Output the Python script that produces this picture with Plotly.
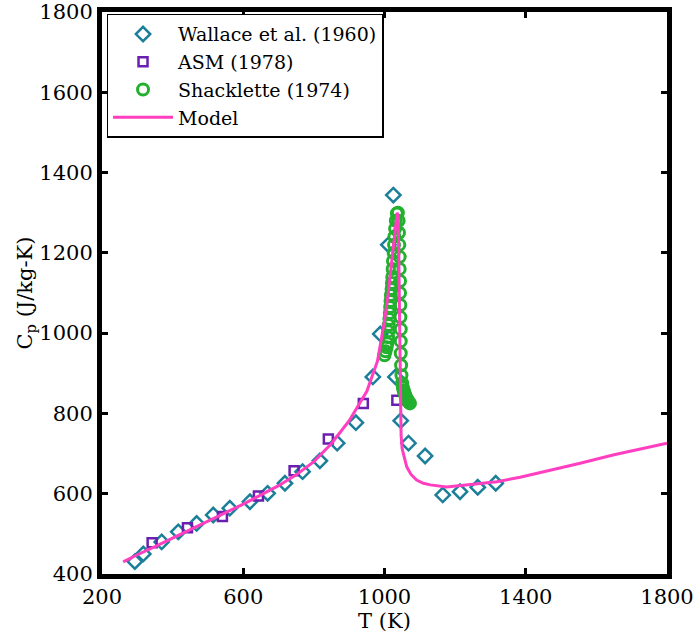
import plotly.graph_objects as go

# Wallace et al. (1960)
wallace_T = [293, 317, 369, 416, 468, 515, 562, 619, 669, 718, 768, 817, 866, 919,
             967, 988, 1011, 1025, 1031, 1046, 1068, 1115, 1165, 1214, 1264, 1315]
wallace_cp = [431, 450, 480, 505, 526, 547, 564, 580, 601, 626, 655, 682, 726, 777,
              891, 998, 1220, 1344, 891, 782, 726, 694, 597, 605, 616, 626]

# ASM (1978)
asm_T = [342, 442, 541, 643, 744, 841, 940, 1035]
asm_cp = [478, 515, 543, 594, 657, 736, 825, 833]

# Shacklette (1974)
shack_T = [1000, 1003, 1006, 1008, 1010, 1011, 1012, 1014, 1015, 1016, 1017, 1018,
           1020, 1021, 1022, 1023, 1024, 1026, 1027, 1028, 1030, 1032, 1035,
           1038, 1040, 1041, 1042, 1043, 1043, 1044, 1044, 1045, 1045, 1046, 1046,
           1046, 1047, 1048, 1050, 1052, 1054, 1056, 1058, 1060, 1062, 1064, 1066,
           1068, 1070, 1072]
shack_cp = [945, 955, 965, 975, 990, 1005, 1020, 1035, 1050, 1065, 1080, 1095,
            1110, 1125, 1140, 1160, 1180, 1200, 1220, 1240, 1260, 1280, 1298,
            1300, 1280, 1250, 1220, 1190, 1160, 1130, 1100, 1070, 1040, 1010, 980,
            950, 920, 895, 875, 865, 858, 852, 847, 842, 838, 835, 832,
            829, 827, 825]

# Model
model_T = [260, 300, 350, 400, 450, 500, 550, 600, 650, 700, 750, 800, 850, 900,
           950, 980, 1000, 1010, 1020, 1030, 1036, 1039, 1041, 1043, 1045, 1047,
           1050, 1056, 1063, 1075, 1091, 1110, 1130, 1176, 1233, 1318, 1384, 1470,
           1554, 1650, 1720, 1800]
model_cp = [430, 448, 468, 489, 510, 531, 551, 574, 597, 620, 647, 680, 725, 782,
            855, 930, 1030, 1095, 1175, 1260, 1300, 1290, 1150, 1000, 850, 745,
            712, 690, 667, 648, 634, 626, 622, 617, 622, 630, 641, 658,
            676, 697, 711, 726]

FONT = "DejaVu Serif"

fig = go.Figure()
fig.add_trace(go.Scatter(
    x=wallace_T, y=wallace_cp, mode="markers", name="Wallace et al. (1960)",
    marker=dict(symbol="diamond-open", size=11, color="#1B7F99",
                line=dict(width=2.5, color="#1B7F99"))))
fig.add_trace(go.Scatter(
    x=asm_T, y=asm_cp, mode="markers", name="ASM (1978)",
    marker=dict(symbol="square-open", size=9, color="#6A1FB0",
                line=dict(width=2.5, color="#6A1FB0"))))
fig.add_trace(go.Scatter(
    x=shack_T, y=shack_cp, mode="markers", name="Shacklette (1974)",
    marker=dict(symbol="circle-open", size=11, color="#22B02E",
                line=dict(width=3, color="#22B02E"))))
fig.add_trace(go.Scatter(
    x=model_T, y=model_cp, mode="lines", name="Model",
    line=dict(color="#FF3EC0", width=3)))

axis_common = dict(
    showline=True, linecolor="black", linewidth=5, mirror="ticks",
    ticks="inside", ticklen=6, tickwidth=3, tickcolor="black",
    showgrid=False, zeroline=False, automargin=False,
    ticklabeloverflow="allow",
    tickfont=dict(family=FONT, size=21, color="black"),
)

fig.update_layout(
    width=693, height=635,
    margin=dict(l=102, r=26, t=12, b=61),
    plot_bgcolor="white", paper_bgcolor="white",
    font=dict(family=FONT, size=21, color="black"),
    xaxis=dict(range=[200, 1800], tick0=200, dtick=400,
               title=dict(text="T (K)", font=dict(family=FONT, size=21), standoff=0),
               **axis_common),
    yaxis=dict(range=[400, 1800], tick0=400, dtick=200,
               title=dict(text="C<sub>p</sub> (J/kg-K)", font=dict(family=FONT, size=21), standoff=0),
               **axis_common),
    legend=dict(x=0.008, y=0.997, xanchor="left", yanchor="top",
                bgcolor="white", bordercolor="black", borderwidth=1.5,
                font=dict(family=FONT, size=19, color="black"),
                itemwidth=60, tracegroupgap=0, entrywidth=232),
    showlegend=True,
)

fig.write_html("out.html")
